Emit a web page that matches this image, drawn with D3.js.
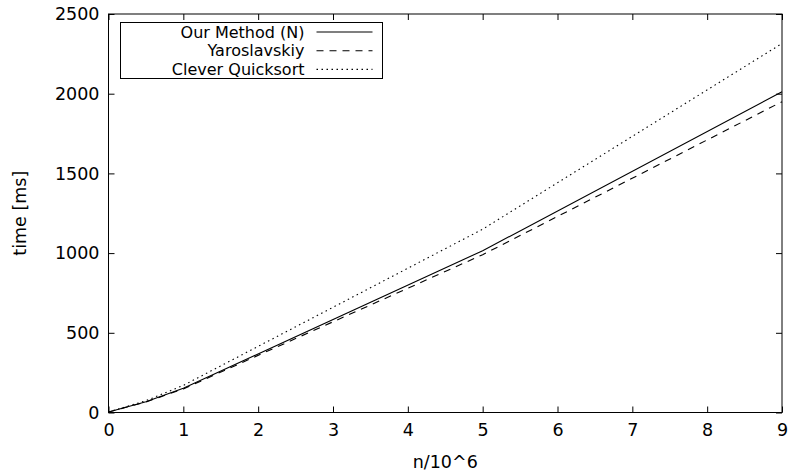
<!DOCTYPE html>
<html>
<head>
<meta charset="utf-8">
<script src="https://cdn.jsdelivr.net/npm/d3@7"></script>
<style>
  body { margin: 0; background: #fff; }
  svg text { font-family: "DejaVu Sans", sans-serif; fill: #000; }
</style>
</head>
<body>
<div class="canvas"></div>
<script>
// DATA ---------------------------------------------------------------------------
const nValues = [0, 0.5, 1, 5, 9];                      // n / 10^6
const ourMethod = [3, 68, 152, 1015, 2012];             // time [ms]
const yaroslavskiy = [3, 66, 148, 990, 1950];
const cleverQuicksort = [3, 74, 170, 1150, 2315];
const seriesNames = ['Our Method (N)', 'Yaroslavskiy', 'Clever Quicksort'];
const xTicks = [0, 1, 2, 3, 4, 5, 6, 7, 8, 9];
const yTicks = [0, 500, 1000, 1500, 2000, 2500];

// SET UP GRAPH -------------------------------------------------------------------
const width = 790, height = 474;
const margin = { top: 14, right: 8, bottom: 61.5, left: 108.5 };
const graphWidth = width - margin.left - margin.right;
const graphHeight = height - margin.top - margin.bottom;
const fontSize = '17.5px';

const svg = d3.select('.canvas')
    .append('svg')
        .attr('width', width)
        .attr('height', height);

const graph = svg.append('g')
    .attr('transform', `translate(${margin.left}, ${margin.top})`);

const x = d3.scaleLinear().domain([0, 9]).range([0, graphWidth]);
const y = d3.scaleLinear().domain([0, 2500]).range([graphHeight, 0]);

// Axes with inward ticks, mirrored on top / right (gnuplot style)
const tick = 6;
const xAxis = d3.axisBottom(x).tickValues(xTicks).tickSize(-tick).tickPadding(11).tickFormat(d3.format('d'));
const yAxis = d3.axisLeft(y).tickValues(yTicks).tickSize(-tick).tickPadding(9).tickFormat(d3.format('d'));
const xAxisTop = d3.axisTop(x).tickValues(xTicks).tickSize(-tick).tickFormat('');
const yAxisRight = d3.axisRight(y).tickValues(yTicks).tickSize(-tick).tickFormat('');

const styleAxis = g => {
    g.select('.domain').remove();
    g.selectAll('line').attr('stroke', '#000').attr('stroke-width', 1);
    g.selectAll('text').style('font-size', fontSize).attr('fill', '#000');
};

graph.append('g').attr('transform', `translate(0, ${graphHeight})`).call(xAxis).call(styleAxis);
graph.append('g').call(yAxis).call(styleAxis);
graph.append('g').call(xAxisTop).call(styleAxis);
graph.append('g').attr('transform', `translate(${graphWidth}, 0)`).call(yAxisRight).call(styleAxis);

// Border
graph.append('rect')
    .attr('x', 0).attr('y', 0)
    .attr('width', graphWidth).attr('height', graphHeight)
    .attr('fill', 'none')
    .attr('stroke', '#000')
    .attr('stroke-width', 1);

// Axis titles
svg.append('text')
    .attr('text-anchor', 'middle')
    .attr('x', margin.left + graphWidth / 2)
    .attr('y', 468)
    .style('font-size', fontSize)
    .text('n/10^6');

svg.append('text')
    .attr('text-anchor', 'middle')
    .attr('transform', `translate(26, ${margin.top + graphHeight / 2}) rotate(-90)`)
    .style('font-size', fontSize)
    .text('time [ms]');

// LINES --------------------------------------------------------------------------
const series = [
    { name: seriesNames[0], values: ourMethod, dash: null },
    { name: seriesNames[1], values: yaroslavskiy, dash: '7,6' },
    { name: seriesNames[2], values: cleverQuicksort, dash: '1.5,3.5' }
];

const line = d3.line()
    .x((d, i) => x(nValues[i]))
    .y(d => y(d));

graph.selectAll('path.series')
    .data(series)
    .enter()
    .append('path')
        .attr('class', 'series')
        .attr('d', d => line(d.values))
        .attr('fill', 'none')
        .attr('stroke', '#000')
        .attr('stroke-width', 1.1)
        .attr('stroke-dasharray', d => d.dash);

// LEGEND -------------------------------------------------------------------------
const legend = svg.append('g').attr('transform', 'translate(120.5, 22.5)');
const rowH = 18.7;

legend.append('rect')
    .attr('width', 262)
    .attr('height', 56)
    .attr('fill', '#fff')
    .attr('stroke', '#000')
    .attr('stroke-width', 1);

const rows = legend.selectAll('g.row')
    .data(series)
    .enter()
    .append('g')
        .attr('class', 'row')
        .attr('transform', (d, i) => `translate(0, ${9.5 + i * rowH})`);

rows.append('text')
    .attr('x', 184)
    .attr('y', 0)
    .attr('dy', '0.35em')
    .attr('text-anchor', 'end')
    .style('font-size', '16px')
    .text(d => d.name);

rows.append('line')
    .attr('x1', 196).attr('x2', 252)
    .attr('y1', 0).attr('y2', 0)
    .attr('stroke', '#000')
    .attr('stroke-width', 1.1)
    .attr('stroke-dasharray', d => d.dash);
</script>
</body>
</html>
